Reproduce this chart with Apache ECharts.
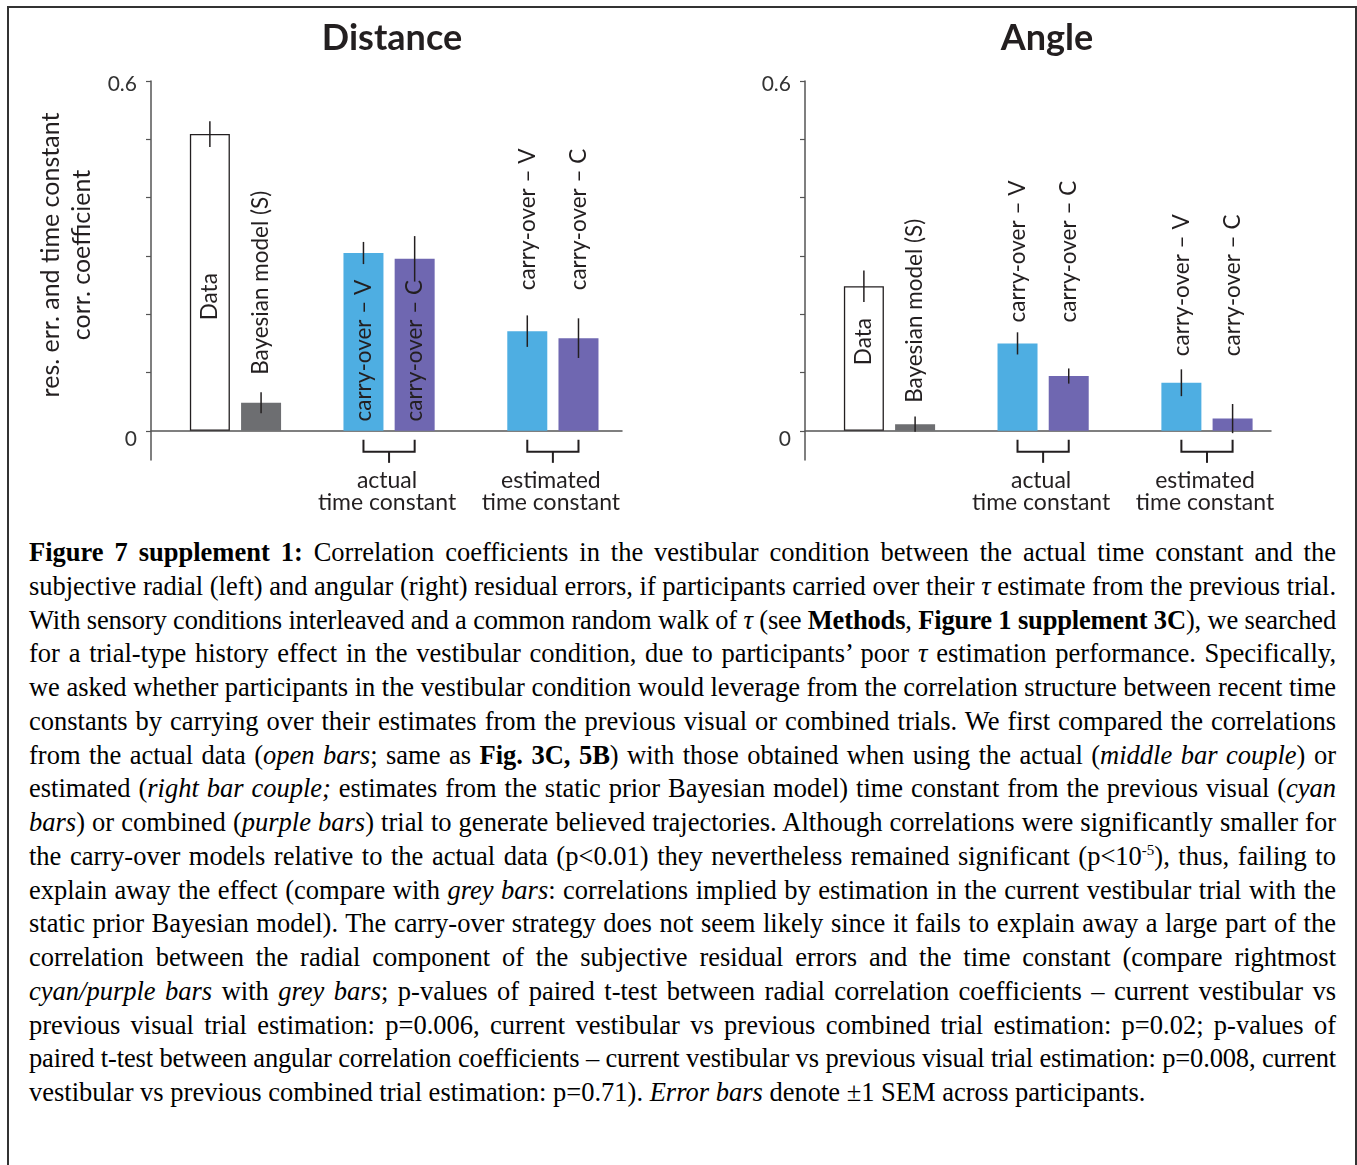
<!DOCTYPE html>
<html>
<head>
<meta charset="utf-8">
<script src="https://cdn.jsdelivr.net/npm/echarts@6/dist/echarts.min.js"></script>
<style>
  body { margin: 0; background: #fff; }
  #frame { position: absolute; left: 7px; top: 6px; width: 1346px; height: 1200px; border: 2px solid #333; border-bottom: none; }
  #chart { position: absolute; left: 0; top: 0; width: 1357px; height: 530px; }
  #caption { position: absolute; left: 29px; top: 536px; width: 1307px; font-family: "Liberation Serif"; font-size: 26.5px; line-height: 33.75px; color: #000; }
  #caption div { white-space: nowrap; }
  sup { font-size: 15px; line-height: 0; }
</style>
</head>
<body>
<div id="frame"></div>
<div id="chart"></div>
<div id="caption">
<div><span><b>Figure 7 supplement 1:</b> Correlation coefficients in the vestibular condition between the actual time constant and the</span></div>
<div><span>subjective radial (left) and angular (right) residual errors, if participants carried over their <i>τ</i> estimate from the previous trial.</span></div>
<div><span>With sensory conditions interleaved and a common random walk of <i>τ</i> (see <b>Methods</b>, <b>Figure 1 supplement 3C</b>), we searched</span></div>
<div><span>for a trial-type history effect in the vestibular condition, due to participants’ poor <i>τ</i> estimation performance. Specifically,</span></div>
<div><span>we asked whether participants in the vestibular condition would leverage from the correlation structure between recent time</span></div>
<div><span>constants by carrying over their estimates from the previous visual or combined trials. We first compared the correlations</span></div>
<div><span>from the actual data (<i>open bars</i>; same as <b>Fig. 3C, 5B</b>) with those obtained when using the actual (<i>middle bar couple</i>) or</span></div>
<div><span>estimated (<i>right bar couple;</i> estimates from the static prior Bayesian model) time constant from the previous visual (<i>cyan</i></span></div>
<div><span><i>bars</i>) or combined (<i>purple bars</i>) trial to generate believed trajectories. Although correlations were significantly smaller for</span></div>
<div><span>the carry-over models relative to the actual data (p&lt;0.01) they nevertheless remained significant (p&lt;10<sup>-5</sup>), thus, failing to</span></div>
<div><span>explain away the effect (compare with <i>grey bars</i>: correlations implied by estimation in the current vestibular trial with the</span></div>
<div><span>static prior Bayesian model). The carry-over strategy does not seem likely since it fails to explain away a large part of the</span></div>
<div><span>correlation between the radial component of the subjective residual errors and the time constant (compare rightmost</span></div>
<div><span><i>cyan/purple bars</i> with <i>grey bars</i>; p-values of paired t-test between radial correlation coefficients – current vestibular vs</span></div>
<div><span>previous visual trial estimation: p=0.006, current vestibular vs previous combined trial estimation: p=0.02; p-values of</span></div>
<div><span>paired t-test between angular correlation coefficients – current vestibular vs previous visual trial estimation: p=0.008, current</span></div>
<div><span>vestibular vs previous combined trial estimation: p=0.71). <i>Error bars</i> denote ±1 SEM across participants.</span></div>
</div>
<script>
// values
const barNames = ["Data", "Bayesian model (S)", "carry-over – V", "carry-over – C", "carry-over – V", "carry-over – C"];
const groupNames = ["actual\ntime constant", "estimated\ntime constant"];
const panelTitles = ["Distance", "Angle"];

const distanceValues = [0.509, 0.048, 0.305, 0.295, 0.171, 0.159];
const distanceErrors = [0.022, 0.018, 0.019, 0.039, 0.027, 0.034];

const angleValues = [0.248, 0.0115, 0.150, 0.094, 0.0825, 0.021];
const angleErrors = [0.027, 0.013, 0.019, 0.013, 0.023, 0.025];

const yTicks = [0, 0.1, 0.2, 0.3, 0.4, 0.5, 0.6];
const yTickLabels = [0, 0.6];
const yName = "res. err. and time constant\ncorr. coefficient";


/*
  layout
*/
const slotX = [0, 1, 3, 4, 6.2, 7.2];
const pairs = [[2, 3], [4, 5]];
const barColors = ["#ffffff", "#6d6e71", "#4eaee2", "#6f67b1", "#4eaee2", "#6f67b1"];
const ink = "#231f20";

// where each bar name sits (value units) and how: c = centred, s = starts there
const labelLayout = [
    { at: [0.230, 0.096, 0.016, 0.016, 0.241, 0.241], mode: ["c", "s", "s", "s", "s", "s"] },
    { at: [0.153, 0.048, 0.186, 0.186, 0.128, 0.128], mode: ["c", "s", "s", "s", "s", "s"] }
];

const grids = [
    { left: 151, top: 81, width: 471, height: 379 },
    { left: 805, top: 81, width: 466, height: 379 }
];
const xMax = [8.05, 7.95];
const titleX = [392, 1047];


const chart = echarts.init(document.getElementById("chart"));

function textStyle(text, font, align, valign) {
    return {
        text: text, font: font, fill: ink,
        textAlign: align, align: align,
        textVerticalAlign: valign, verticalAlign: valign
    };
}

function panelSeries(i, values, errors) {

    const lay = labelLayout[i];

    return [
        {
            type: "bar",
            xAxisIndex: i,
            yAxisIndex: i,
            barWidth: 40,
            silent: true,
            z: 2,
            data: values.map((v, k) => ({
                value: [slotX[k], v],
                itemStyle: {
                    color: barColors[k],
                    borderColor: k === 0 ? ink : barColors[k],
                    borderWidth: k === 0 ? 1.3 : 0
                }
            }))
        },

        // error bars
        {
            type: "custom",
            xAxisIndex: i,
            yAxisIndex: i,
            silent: true,
            z: 5,
            encode: { x: 0, y: [1, 2] },
            data: values.map((v, k) => [slotX[k], v - errors[k], v + errors[k]]),
            renderItem: (params, api) => {
                const a = api.coord([api.value(0), api.value(1)]);
                const b = api.coord([api.value(0), api.value(2)]);
                return {
                    type: "line",
                    shape: { x1: a[0], y1: a[1], x2: b[0], y2: b[1] },
                    style: { stroke: ink, lineWidth: 1.5 }
                };
            }
        },

        // bar names
        {
            type: "custom",
            xAxisIndex: i,
            yAxisIndex: i,
            silent: true,
            clip: false,
            z: 10,
            data: barNames.map((n, k) => [slotX[k], lay.at[k], k]),
            renderItem: (params, api) => {
                const k = api.value(2);
                const p = api.coord([api.value(0), api.value(1)]);
                return {
                    type: "text",
                    x: p[0],
                    y: p[1],
                    rotation: Math.PI / 2,
                    z2: 100,
                    style: textStyle(barNames[k], "22.5px Lato", lay.mode[k] === "c" ? "center" : "left", "middle")
                };
            }
        },

        // brackets under the bar couples
        {
            type: "custom",
            xAxisIndex: i,
            yAxisIndex: i,
            silent: true,
            clip: false,
            z: 5,
            data: pairs.map((p, g) => [slotX[p[0]], slotX[p[1]], g]),
            renderItem: (params, api) => {
                const a = api.coord([api.value(0), 0]);
                const b = api.coord([api.value(1), 0]);
                const y0 = a[1];
                const mid = (a[0] + b[0]) / 2;
                return {
                    type: "group",
                    children: [
                        {
                            type: "polyline",
                            shape: { points: [[a[0], y0 + 9], [a[0], y0 + 21], [b[0], y0 + 21], [b[0], y0 + 9]] },
                            style: { stroke: ink, lineWidth: 2, fill: null }
                        },
                        {
                            type: "line",
                            shape: { x1: mid, y1: y0 + 21, x2: mid, y2: y0 + 32 },
                            style: { stroke: ink, lineWidth: 2 }
                        },
                        {
                            type: "text",
                            x: mid - 2,
                            y: y0 + 61,
                            style: Object.assign(textStyle(groupNames[api.value(2)], "23px Lato", "center", "middle"), { lineHeight: 22 })
                        }
                    ]
                };
            }
        }
    ];
}


chart.setOption({

    animation: false,

    grid: grids,

    xAxis: grids.map((g, i) => ({
        type: "value",
        gridIndex: i,
        min: -1.15,
        max: xMax[i],
        axisLine: { onZero: true, lineStyle: { color: "#555", width: 1.5 } },
        axisTick: { show: false },
        axisLabel: { show: false },
        splitLine: { show: false }
    })),

    yAxis: grids.map((g, i) => ({
        type: "value",
        gridIndex: i,
        min: -0.05,
        max: 0.6,
        axisLine: { show: true, onZero: false, lineStyle: { color: "#555", width: 1.5 } },
        axisTick: { show: true, customValues: yTicks, length: 5, lineStyle: { color: "#555", width: 1.2 } },
        axisLabel: {
            customValues: yTickLabels,
            margin: 14,
            formatter: v => v === 0 ? "{z|0}" : "{t|" + v + "}",
            rich: {
                z: { fontFamily: "Lato", fontSize: 21, color: "#333", padding: [16, 0, 0, 0] },
                t: { fontFamily: "Lato", fontSize: 21, color: "#333", padding: [6, 0, 0, 0] }
            }
        },
        splitLine: { show: false }
    })),

    graphic: [
        ...panelTitles.map((t, i) => ({
            type: "text",
            x: titleX[i],
            y: 38,
            style: textStyle(t, "bold 36px Lato", "center", "middle")
        })),
        {
            type: "text",
            x: 66,
            y: 255,
            rotation: Math.PI / 2,
            style: Object.assign(textStyle(yName, "25px Lato", "center", "middle"), { lineHeight: 31 })
        }
    ],

    series: [
        ...panelSeries(0, distanceValues, distanceErrors),
        ...panelSeries(1, angleValues, angleErrors)
    ]

});


// justify the caption lines the way they break in the original
document.fonts.ready.then(() => {
    const W = 1307;
    const lines = document.querySelectorAll("#caption div");
    lines.forEach((d, i) => {
        if (i === lines.length - 1) return;
        const span = d.firstElementChild;
        const natural = span.getBoundingClientRect().width;
        const txt = span.textContent;
        if (natural > W) {
            d.style.letterSpacing = ((W - natural) / txt.length) + "px";
            const after = span.getBoundingClientRect().width;
            const spaces = (txt.match(/ /g) || []).length;
            d.style.wordSpacing = ((W - after) / spaces) + "px";
        } else {
            const spaces = (txt.match(/ /g) || []).length;
            d.style.wordSpacing = ((W - natural) / spaces) + "px";
        }
    });
});
</script>
</body>
</html>
